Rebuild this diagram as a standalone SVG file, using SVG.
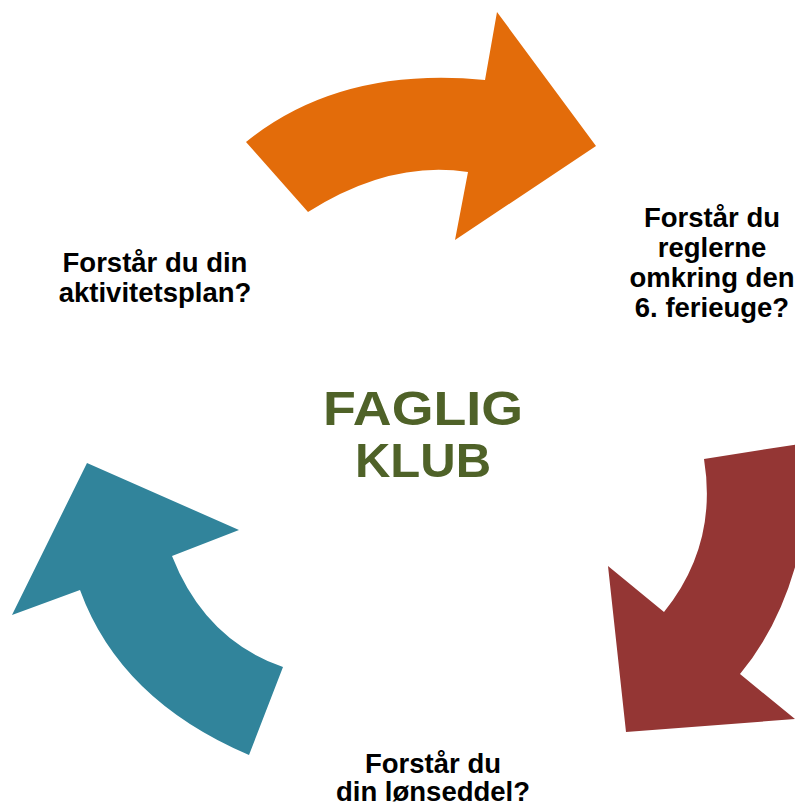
<svg xmlns="http://www.w3.org/2000/svg" width="795" height="808" viewBox="0 0 795 808">
<style>
.lbl{font-family:"Liberation Sans",Arial,sans-serif;font-weight:bold;font-size:27.5px;fill:#000;text-anchor:middle}
.ctr{font-family:"Liberation Sans",Arial,sans-serif;font-weight:bold;font-size:49px;fill:#4F6228;text-anchor:middle}
</style>
<rect width="795" height="808" fill="#fff"/>
<g id="connectors">
<path id="arrow-orange" fill="#E36C0A" d="M246,142 Q340,66 485,80 L497,12 L596,146 L455,240 L468,172 Q390,160 308,212 Z"/>
<path id="arrow-red" fill="#943634" d="M704,459 L812,442 Q810,590 740,674 L795,719 L626,732 L608,566 L664,612 Q718,545 704,459 Z"/>
<path id="arrow-teal" fill="#31849B" d="M87,463 L239,530 L172,556 Q205,640 283,667 L249,755 Q120,700 80,590 L12,615 Z"/>
</g>
<g id="center">
<text class="ctr" x="423" y="425" textLength="200" lengthAdjust="spacingAndGlyphs">FAGLIG</text>
<text class="ctr" x="423" y="477">KLUB</text>
</g>
<g id="node-aktivitetsplan">
<text class="lbl" x="155" y="272">Forstår du din</text>
<text class="lbl" x="155" y="302">aktivitetsplan?</text>
</g>
<g id="node-ferieuge">
<text class="lbl" x="712" y="227">Forstår du</text>
<text class="lbl" x="712" y="257">reglerne</text>
<text class="lbl" x="712" y="287">omkring den</text>
<text class="lbl" x="712" y="317">6. ferieuge?</text>
</g>
<g id="node-loenseddel">
<text class="lbl" x="433" y="773">Forstår du</text>
<text class="lbl" x="433" y="801">din lønseddel?</text>
</g>
</svg>
